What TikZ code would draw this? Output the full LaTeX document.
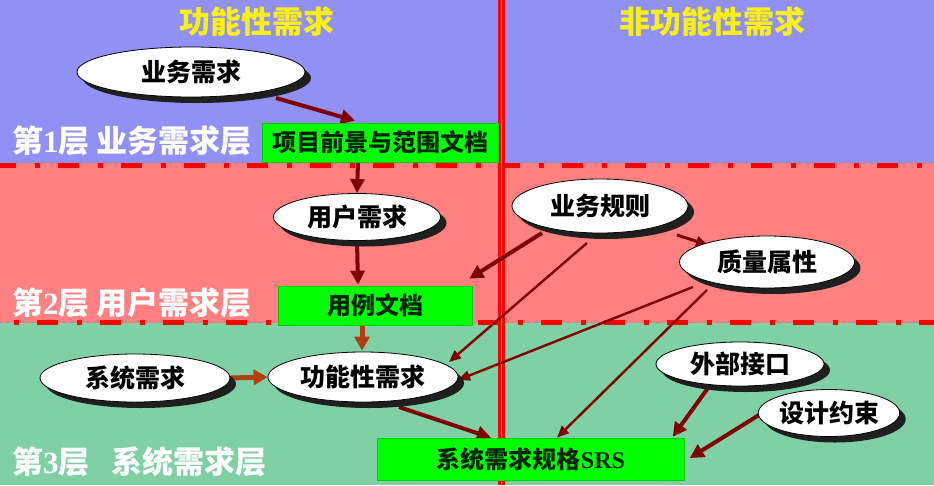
\documentclass[tikz,border=0pt]{standalone}
\usepackage{fontspec}
\setmainfont{Noto Sans CJK SC}[BoldFont={Noto Sans CJK SC Black}]
\newfontfamily\serf{Liberation Serif}
\usetikzlibrary{shapes.geometric,shadows,arrows.meta}
\pgfdeclarelayer{bg}
\pgfdeclarelayer{arr}
\pgfsetlayers{bg,arr,main}
\definecolor{bandblue}{RGB}{144,144,246}
\definecolor{bandred}{RGB}{255,128,128}
\definecolor{bandgreen}{RGB}{128,208,166}
\definecolor{boxgreen}{RGB}{0,255,0}
\definecolor{arrred}{RGB}{128,0,0}
\definecolor{arrorange}{RGB}{176,64,16}
\definecolor{titleyellow}{RGB}{250,240,20}
\definecolor{lnred}{RGB}{255,0,0}
\definecolor{lnpink}{RGB}{255,140,140}
\tikzset{
  oval/.style={ellipse, draw=black, line width=0.8pt, fill=white, inner sep=0pt,
    font=\fontsize{25}{25}\selectfont\bfseries,
    drop shadow={shadow xshift=6pt, shadow yshift=-6pt, fill=black!88, opacity=1}},
  docbox/.style={rectangle, draw=boxgreen!80!black, line width=0.6pt, fill=boxgreen,
    inner sep=0pt, text=black!85!green, font=\fontsize{24}{24}\selectfont\bfseries},
  layerlbl/.style={anchor=west, text=white, inner sep=0pt,
    font=\fontsize{31}{31}\selectfont\bfseries},
  ttl/.style={text=titleyellow, inner sep=0pt, font=\fontsize{31}{31}\selectfont\bfseries},
  heavyarrow/.style={draw=arrred, line width=4pt, -{Triangle[length=14pt,width=14pt]}},
  lightarrow/.style={draw=arrred, line width=2.4pt, -{Triangle[length=12pt,width=10pt]}},
  orangearrow/.style={draw=arrorange, line width=5pt, -{Triangle[length=14pt,width=15pt]}},
  divider/.style={draw=lnred, line width=5pt, dash pattern=on 21pt off 19pt on 5pt off 18pt},
}
\begin{document}
\begin{tikzpicture}[x=1pt,y=-1pt]
\useasboundingbox (0,0) rectangle (934,485);
\begin{pgfonlayer}{bg}
  \fill[bandblue] (0,0) rectangle (934,163);
  \fill[bandred] (0,163) rectangle (934,323);
  \fill[bandgreen] (0,323) rectangle (934,485);
  \draw[divider, dash phase=5pt] (0,165) -- (934,165);
  \draw[divider, dash phase=26pt] (0,322) -- (934,322);
  \draw[lnred, line width=7pt] (501.5,0) -- (501.5,485);
  \draw[lnpink, line width=1.2pt] (501.5,0) -- (501.5,485);
\end{pgfonlayer}

% titles
\node[ttl] (t1) at (257,22) {功能性需求};
\node[ttl] (t2) at (712,22) {非功能性需求};

% layer labels
\node[layerlbl] (l1) at (12,141) {第{\serf 1}层 业务需求层};
\node[layerlbl] (l2) at (12,303) {第{\serf 2}层 用户需求层};
\node[layerlbl] (l3) at (12,462) {第{\serf 3}层\hspace{0.7em}系统需求层};

% ellipses
\node[oval, minimum width=228pt, minimum height=50pt] (bizreq) at (191,72) {业务需求};
\node[oval, minimum width=167pt, minimum height=47pt] (usereq) at (357,217) {用户需求};
\node[oval, minimum width=176pt, minimum height=54pt] (bizrule) at (600,206) {业务规则};
\node[oval, minimum width=175pt, minimum height=52pt] (quality) at (767,262) {质量属性};
\node[oval, minimum width=190pt, minimum height=48pt] (sysreq) at (135,378) {系统需求};
\node[oval, minimum width=190pt, minimum height=50pt] (funcreq) at (363,377) {功能性需求};
\node[oval, minimum width=168pt, minimum height=44pt] (extif) at (740,364) {外部接口};
\node[oval, minimum width=134pt, minimum height=47pt] (design) at (829,413) {设计约束};

% document boxes
\node[docbox, minimum width=236pt, minimum height=39pt] (scope) at (380,142.5) {项目前景与范围文档};
\node[docbox, minimum width=194pt, minimum height=39pt] (usecase) at (375,305.5) {用例文档};
\node[docbox, minimum width=307pt, minimum height=42pt] (srs) at (531,459) {系统需求规格{\serf SRS}};

\begin{pgfonlayer}{arr}
  \draw[heavyarrow] ([shift={(85,26)}]bizreq.center) -- ([shift={(-25,-2)}]scope.north);
  \draw[heavyarrow] ([xshift=-22pt]scope.south) -- (usereq.north);
  \draw[heavyarrow] (usereq.south) -- ([shift={(-17,-1)}]usecase.north);
  \draw[orangearrow] ([xshift=-13pt]usecase.south) -- ([shift={(-1,-1)}]funcreq.north);
  \draw[orangearrow] (sysreq.east) -- (funcreq.west);
  \draw[heavyarrow] ([shift={(-58,27)}]bizrule.center) -- ([shift={(-3,-7)}]usecase.north east);
  \draw[lightarrow] ([shift={(-13,37)}]bizrule.center) -- ([shift={(86,-15)}]funcreq.center);
  \draw[lightarrow] ([shift={(-74,25)}]quality.center) -- ([shift={(95,3)}]funcreq.center);
  \draw[lightarrow] ([shift={(-60,28)}]quality.center) -- ([shift={(26,0)}]srs.north);
  \draw[lightarrow, line width=3pt] ([shift={(77,29)}]bizrule.center) -- ([shift={(-59,-17)}]quality.center);
  \draw[heavyarrow] ([shift={(36,30)}]funcreq.center) -- ([shift={(-40,0)}]srs.north);
  \draw[heavyarrow] ([shift={(-32,24)}]extif.center) -- ([shift={(-12,-1)}]srs.north east);
  \draw[heavyarrow] ([shift={(-70,2)}]design.center) -- ([shift={(5,-1)}]srs.east);
\end{pgfonlayer}
\end{tikzpicture}
\end{document}
